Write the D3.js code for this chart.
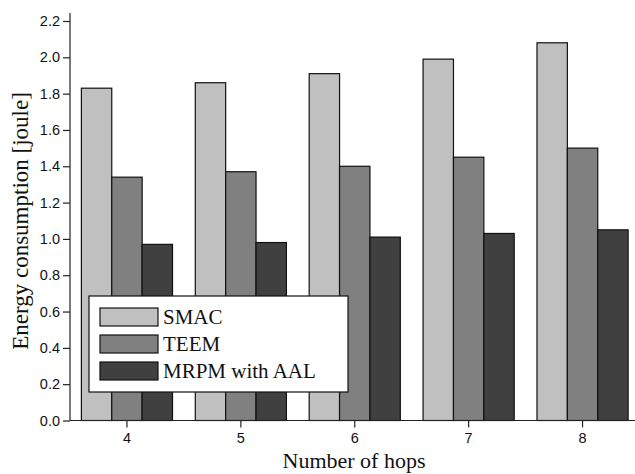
<!DOCTYPE html>
<html><head><meta charset="utf-8">
<script src="https://cdn.jsdelivr.net/npm/d3@7"></script>
<style>body{margin:0;background:#fff}svg{display:block}</style>
</head><body>
<script>
const categories = ["4","5","6","7","8"];
const seriesNames = ["SMAC","TEEM","MRPM with AAL"];
const smac = [1.83,1.86,1.91,1.99,2.08];
const teem = [1.34,1.37,1.40,1.45,1.50];
const mrpm = [0.97,0.98,1.01,1.03,1.05];
const yTicks = [0,0.2,0.4,0.6,0.8,1.0,1.2,1.4,1.6,1.8,2.0,2.2];
const colors = ["#c0c0c0","#808080","#404040"];
const series = [smac, teem, mrpm];

const W=635,H=474;
const svg=d3.select("body").append("svg").attr("width",W).attr("height",H);
const x=d3.scaleBand().domain(categories).range([70,639.5]).paddingInner(0.2).paddingOuter(0.1);
const xs=d3.scaleBand().domain(seriesNames).range([0,x.bandwidth()]);
const y=d3.scaleLinear().domain([0,2.2]).range([420.5,21]);

const g=svg.append("g");
categories.forEach((c,i)=>{
  series.forEach((s,j)=>{
    g.append("rect").attr("x",x(c)+xs(seriesNames[j])).attr("y",y(s[i]))
     .attr("width",xs.bandwidth()).attr("height",y(0)-y(s[i]))
     .attr("fill",colors[j]).attr("stroke","#111").attr("stroke-width",1.2);
  });
});

const yAxis=svg.append("g").attr("transform","translate(70,0)")
  .call(d3.axisLeft(y).tickValues(yTicks).tickFormat(d3.format(".1f")).tickSize(7).tickSizeOuter(0));
yAxis.select(".domain").remove();
yAxis.append("line").attr("x1",0).attr("x2",0).attr("y1",13).attr("y2",420.5).attr("stroke","#222").attr("stroke-width",1.2);
yAxis.selectAll("text").attr("font-family","'Liberation Sans',Arial,sans-serif").attr("font-size",14.5).attr("fill","#111").attr("x",-10);
yAxis.selectAll(".tick line").attr("stroke","#222").attr("stroke-width",1.2);

const xAxis=svg.append("g").attr("transform","translate(0,420.5)")
  .call(d3.axisBottom(x).tickSize(7).tickSizeOuter(0));
xAxis.select(".domain").remove();
xAxis.append("line").attr("x1",70).attr("x2",635).attr("y1",0).attr("y2",0).attr("stroke","#222").attr("stroke-width",1.2);
xAxis.selectAll("text").attr("font-family","'Liberation Sans',Arial,sans-serif").attr("font-size",14.5).attr("fill","#111").attr("y",12);
xAxis.selectAll(".tick line").attr("stroke","#222").attr("stroke-width",1.2);

svg.append("text").attr("x",354).attr("y",468).attr("text-anchor","middle")
  .attr("font-family","'Liberation Serif','Times New Roman',serif").attr("font-size",22).attr("fill","#111").text("Number of hops");
svg.append("text").attr("transform","translate(28,221) rotate(-90)").attr("text-anchor","middle")
  .attr("font-family","'Liberation Serif','Times New Roman',serif").attr("font-size",23).attr("fill","#111").text("Energy consumption [joule]");

const leg=svg.append("g");
leg.append("rect").attr("x",89).attr("y",296).attr("width",259).attr("height",96).attr("fill","#fff").attr("stroke","#111").attr("stroke-width",1.2);
seriesNames.forEach((n,j)=>{
  const yy=308+j*27;
  leg.append("rect").attr("x",100).attr("y",yy).attr("width",58).attr("height",18).attr("fill",colors[j]).attr("stroke","#111").attr("stroke-width",1.2);
  leg.append("text").attr("x",163).attr("y",yy+16).attr("font-family","'Liberation Serif','Times New Roman',serif").attr("font-size",21).attr("fill","#111").text(n);
});
</script>
</body></html>
